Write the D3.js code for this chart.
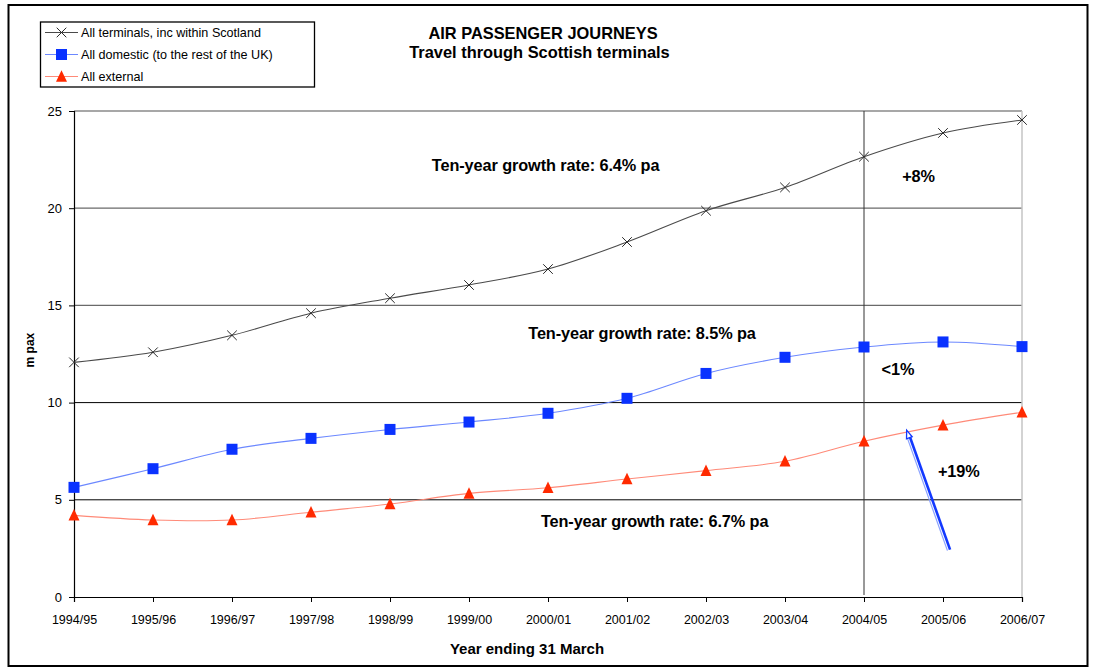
<!DOCTYPE html>
<html>
<head>
<meta charset="utf-8">
<script src="https://cdn.jsdelivr.net/npm/d3@7"></script>
<style>
  html, body { margin: 0; padding: 0; background: #fff; }
  svg { display: block; font-family: Arial, "Liberation Sans", sans-serif; }
</style>
</head>
<body>
<svg id="chart" width="1095" height="669"></svg>
<script>
// Financial years (year ending 31 March)
const years = ["1994/95","1995/96","1996/97","1997/98","1998/99","1999/00","2000/01",
               "2001/02","2002/03","2003/04","2004/05","2005/06","2006/07"];

// Passenger journeys, millions
const allTerminals = [12.07, 12.59, 13.46, 14.6, 15.37, 16.05, 16.87, 18.26, 19.87, 21.07, 22.65, 23.87, 24.54];
const allDomestic  = [5.64, 6.6, 7.6, 8.16, 8.62, 9.0, 9.45, 10.22, 11.5, 12.33, 12.86, 13.12, 12.88];
const allExternal  = [4.2, 3.96, 3.96, 4.36, 4.78, 5.33, 5.62, 6.07, 6.5, 6.98, 8.01, 8.84, 9.5];

const yTicks = [0, 5, 10, 15, 20, 25];

const svg = d3.select("#chart");

// outer frame
svg.append("rect").attr("x", 8.5).attr("y", 5).attr("width", 1079).attr("height", 661)
  .attr("fill", "#fff").attr("stroke", "#000").attr("stroke-width", 2);

const plot = { left: 74, right: 1022, top: 111, bottom: 597 };

const x = d3.scaleLinear().domain([0, years.length - 1]).range([plot.left, plot.right]);
const y = d3.scaleLinear().domain([0, 25]).range([plot.bottom, plot.top]);

// horizontal gridlines
const gridColor = v => (v >= 15 ? "#6a6a6a" : "#000");
svg.append("g").selectAll("line").data(yTicks.filter(v => v > 0 && v < 25)).join("line")
  .attr("x1", plot.left).attr("x2", plot.right)
  .attr("y1", d => y(d)).attr("y2", d => y(d))
  .attr("stroke", gridColor).attr("stroke-width", d => d >= 15 ? 1.3 : 1);

// plot-area top and right edges
svg.append("line").attr("x1", plot.left).attr("x2", plot.right)
  .attr("y1", y(25)).attr("y2", y(25)).attr("stroke", "#8a8a8a").attr("stroke-width", 1.3);
svg.append("line").attr("x1", plot.right).attr("x2", plot.right)
  .attr("y1", y(25)).attr("y2", y(0)).attr("stroke", "#c4c4c4").attr("stroke-width", 1.5);

// reference line at 2004/05
svg.append("line").attr("x1", x(10)).attr("x2", x(10))
  .attr("y1", y(25)).attr("y2", y(0) - 2).attr("stroke", "#333").attr("stroke-width", 1);

// axes
const yAxis = d3.axisLeft(y).tickValues(yTicks).tickSize(5).tickPadding(7);
const gy = svg.append("g").attr("transform", `translate(${plot.left},0)`).call(yAxis);
gy.select(".domain").attr("stroke", "#000").attr("stroke-width", 1.2);
gy.selectAll(".tick line").attr("stroke", "#000");
gy.selectAll("text").attr("font-size", 13).attr("fill", "#000")
  .attr("font-family", "Arial, 'Liberation Sans', sans-serif");

const xAxis = d3.axisBottom(x).tickValues(d3.range(years.length))
  .tickFormat(i => years[i]).tickSize(5).tickPadding(13);
const gx = svg.append("g").attr("transform", `translate(0,${plot.bottom})`).call(xAxis);
gx.select(".domain").attr("stroke", "#000").attr("stroke-width", 1.2);
gx.selectAll(".tick line").attr("stroke", "#000");
gx.selectAll("text").attr("font-size", 12.5).attr("fill", "#000")
  .attr("font-family", "Arial, 'Liberation Sans', sans-serif");

// axis titles
svg.append("text").attr("x", 527).attr("y", 654)
  .attr("text-anchor", "middle").attr("font-weight", "bold").attr("font-size", 15)
  .text("Year ending 31 March");
svg.append("text").attr("transform", `translate(34,${y(12.7)}) rotate(-90)`)
  .attr("text-anchor", "middle").attr("font-weight", "bold").attr("font-size", 12)
  .text("m pax");

// chart title
svg.append("text").attr("x", 543).attr("y", 39).attr("text-anchor", "middle")
  .attr("font-weight", "bold").attr("font-size", 16.4)
  .text("AIR PASSENGER JOURNEYS");
svg.append("text").attr("x", 539.5).attr("y", 58).attr("text-anchor", "middle")
  .attr("font-weight", "bold").attr("font-size", 16.4)
  .text("Travel through Scottish terminals");

// series
const curve = d3.curveCardinal.tension(0);
const line = d3.line().x((d, i) => x(i)).y(d => y(d)).curve(curve);

const series = [
  { name: "All terminals, inc within Scotland", values: allTerminals, line: "#4a4a4a", mark: "#2a2a2a", shape: "cross" },
  { name: "All domestic (to the rest of the UK)", values: allDomestic, line: "#6c88ff", mark: "#0a32ff", shape: "square" },
  { name: "All external", values: allExternal, line: "#ff8a78", mark: "#ff2a00", shape: "triangle" }
];

function drawMarker(g, shape, color, cx, cy) {
  if (shape === "cross") {
    const r = 4.8;
    g.append("path").attr("d", `M${cx - r},${cy - r}L${cx + r},${cy + r}M${cx - r},${cy + r}L${cx + r},${cy - r}`)
      .attr("stroke", color).attr("stroke-width", 1).attr("fill", "none");
  } else if (shape === "square") {
    const s = 11;
    g.append("rect").attr("x", cx - s / 2).attr("y", cy - s / 2).attr("width", s).attr("height", s)
      .attr("fill", color);
  } else {
    const w = 11, h = 10.5;
    g.append("path").attr("d", `M${cx},${cy - h / 2 - 1}L${cx + w / 2},${cy + h / 2}L${cx - w / 2},${cy + h / 2}Z`)
      .attr("fill", color);
  }
}

series.forEach(s => {
  svg.append("path").datum(s.values).attr("d", line)
    .attr("fill", "none").attr("stroke", s.line).attr("stroke-width", 1.1);
  const g = svg.append("g");
  s.values.forEach((v, i) => drawMarker(g, s.shape, s.mark, x(i), y(v)));
});

// growth annotations
const notes = [
  { text: "Ten-year growth rate: 6.4% pa", i: 5.97, v: 21.92 },
  { text: "Ten-year growth rate: 8.5% pa", i: 7.19, v: 13.27 },
  { text: "Ten-year growth rate: 6.7% pa", i: 7.35, v: 3.62 },
  { text: "+8%", i: 10.69, v: 21.36 },
  { text: "<1%", i: 10.43, v: 11.42 },
  { text: "+19%", i: 11.2, v: 6.19 }
];
svg.append("g").selectAll("text").data(notes).join("text")
  .attr("x", d => x(d.i)).attr("y", d => y(d.v)).attr("text-anchor", "middle")
  .attr("font-weight", "bold").attr("font-size", 16.3).attr("letter-spacing", -0.1)
  .attr("fill", "#000").text(d => d.text);

// arrow pointing to the external series
const arrowFrom = { i: 11.08, v: 2.42 }, arrowTo = { i: 10.54, v: 8.58 };
const ax1 = x(arrowFrom.i), ay1 = y(arrowFrom.v), ax2 = x(arrowTo.i), ay2 = y(arrowTo.v);
const ang = Math.atan2(ay2 - ay1, ax2 - ax1);
const nx = -Math.sin(ang), ny = Math.cos(ang);
const headLen = 8, headW = 3;
const bx = ax2 - headLen * Math.cos(ang), by = ay2 - headLen * Math.sin(ang);
const arrow = svg.append("g");
// light edge
arrow.append("line").attr("x1", ax1 - nx * 2).attr("y1", ay1 - ny * 2).attr("x2", bx - nx * 2).attr("y2", by - ny * 2)
  .attr("stroke", "#8aa2ff").attr("stroke-width", 1.2);
arrow.append("line").attr("x1", ax1 + nx * 0.8).attr("y1", ay1 + ny * 0.8).attr("x2", bx + nx * 0.8).attr("y2", by + ny * 0.8)
  .attr("stroke", "#1238ff").attr("stroke-width", 2.6);
arrow.append("path")
  .attr("d", `M${ax2},${ay2}L${bx + nx * headW},${by + ny * headW}L${bx - nx * headW},${by - ny * headW}Z`)
  .attr("fill", "#fff").attr("stroke", "#1238ff").attr("stroke-width", 1.3);

// legend
const legend = svg.append("g");
legend.append("rect").attr("x", 40.5).attr("y", 22).attr("width", 274).attr("height", 65)
  .attr("fill", "#fff").attr("stroke", "#000").attr("stroke-width", 1.3);
series.forEach((s, k) => {
  const ly = 32.5 + k * 22;
  legend.append("line").attr("x1", 45).attr("x2", 78).attr("y1", ly).attr("y2", ly)
    .attr("stroke", s.line).attr("stroke-width", 1.1);
  drawMarker(legend, s.shape, s.mark, 61.5, ly);
  legend.append("text").attr("x", 81).attr("y", ly + 4.5).attr("font-size", 12.6)
    .attr("fill", "#000").text(s.name);
});
</script>
</body>
</html>
